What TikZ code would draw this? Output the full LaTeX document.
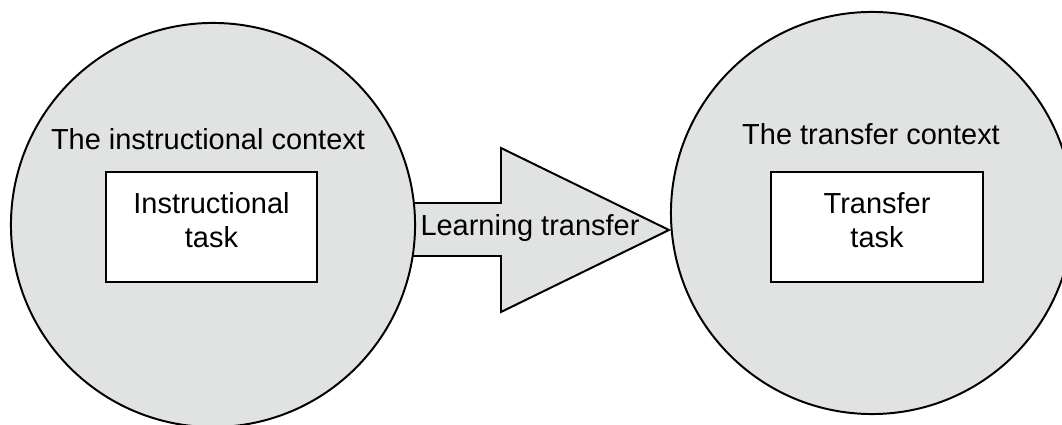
\documentclass[tikz,border=0pt]{standalone}
\usepackage{fontspec}
\setmainfont{Liberation Sans}
\definecolor{ctxgray}{RGB}{225,226,226}
\tikzset{
	context/.style={circle,draw=black,fill=ctxgray,line width=1.4pt,minimum size=#1},
	taskbox/.style={rectangle,draw=black,fill=white,line width=1.4pt,minimum width=5.28cm,minimum height=2.75cm,align=center,text depth=0.35cm},
}
\begin{document}
\begin{tikzpicture}[
		x={(0.025cm,0cm)},
		y={(0cm,0.025cm)},
		font=\fontsize{20.6}{24.1}\selectfont,
	]
		\useasboundingbox (0,0) rectangle (1062,425);
		\clip (0,0) rectangle (1062,425);
		
		% block arrow, under the two circles
		\draw[line width=1.4pt,fill=ctxgray] (380,222) -- (501,222) -- (501,277) -- (669,195) -- (501,113) -- (501,169) -- (380,169) -- cycle;
		
		\node[context=10.1cm] (instrctx) at (213,200) {};
		\node[context=10.05cm] (transfctx) at (872,212) {};
		
		\node[taskbox] (instrtask) at (211.5,198) {Instructional\\task};
		\node[taskbox] (transftask) at (877,198) {Transfer\\task};
		
		\node[anchor=base] (instrlabel) at (208,275) {The instructional context};
		\node[anchor=base] (transflabel) at (871,280) {The transfer context};
		\node[anchor=base] (learnlabel) at (530,189) {Learning transfer};
	\end{tikzpicture}
\end{document}
